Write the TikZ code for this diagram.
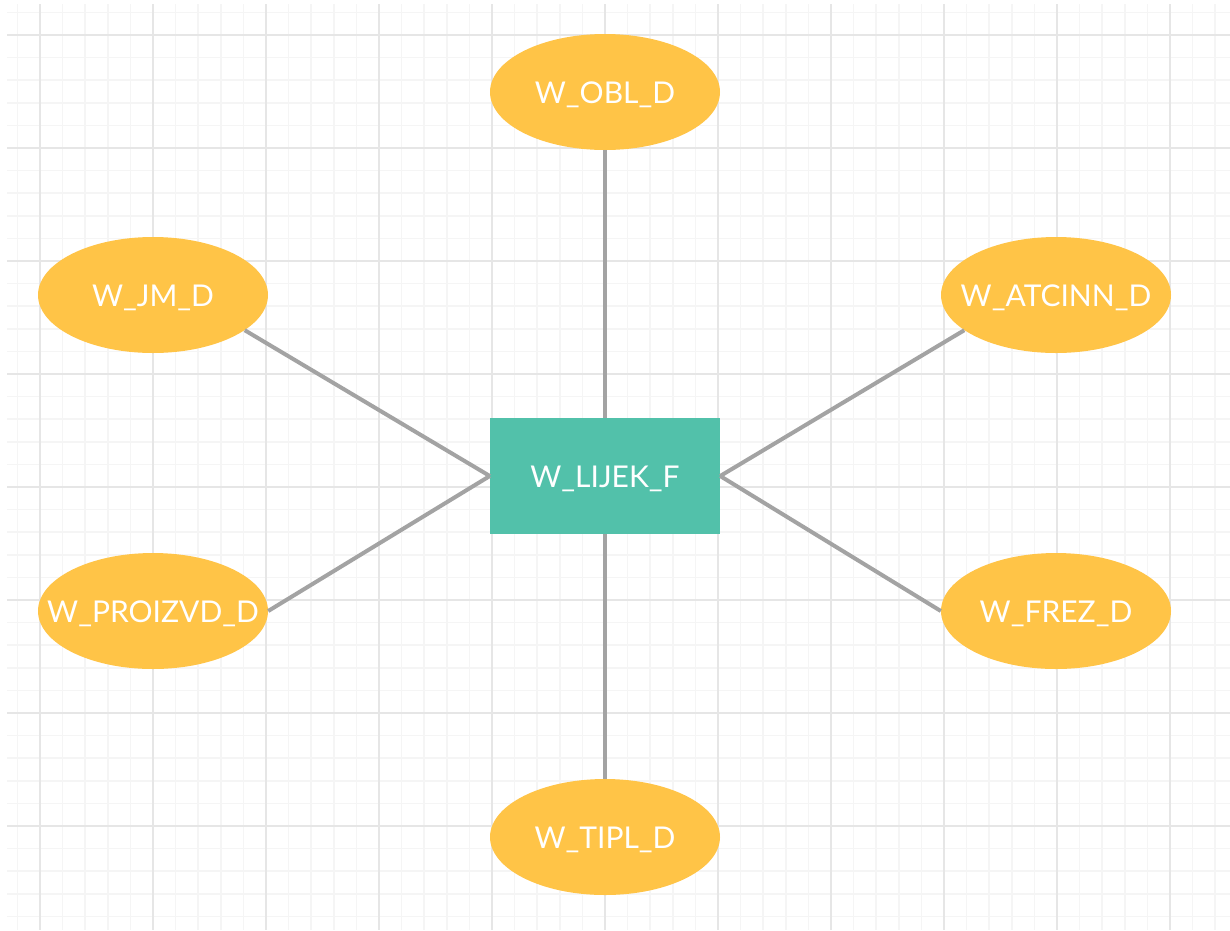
\documentclass[tikz,border=0pt]{standalone}
\usepackage{fontspec}
\setmainfont{Lato}
\usetikzlibrary{shapes.geometric}
\definecolor{dimcol}{HTML}{FFC447}
\definecolor{factcol}{HTML}{52C1AA}
\definecolor{linkcol}{HTML}{A3A3A3}
\definecolor{gridmajor}{HTML}{E6E6E6}
\definecolor{gridminor}{HTML}{F5F5F5}
\tikzset{
  labeltext/.style={text=white, font=\fontsize{30}{36}\selectfont, text height=23pt, text depth=0pt},
  dimnode/.style={ellipse, fill=dimcol, draw=none, minimum width=230pt, minimum height=116pt, inner sep=0pt, labeltext},
  factnode/.style={rectangle, fill=factcol, draw=none, minimum width=230pt, minimum height=116pt, inner sep=0pt, labeltext},
  link/.style={draw=linkcol, line width=4pt},
}
\newcommand{\ctext}[1]{\makebox[0pt][c]{#1}}
\begin{document}
\begin{tikzpicture}[x=1pt,y=-1pt]
\useasboundingbox (0,0) rectangle (1230,930);
\fill[white] (0,0) rectangle (1230,930);
% minor grid
\foreach \i in {0,...,54} {
  \draw[gridminor, line width=1.5pt] ({17.4+22.6*\i},4) -- ({17.4+22.6*\i},930);
}
\foreach \j in {0,...,40} {
  \draw[gridminor, line width=1.5pt] (7,{12.4+22.6*\j}) -- (1230,{12.4+22.6*\j});
}
% major grid
\foreach \i in {0,...,10} {
  \draw[gridmajor, line width=2pt] ({40+113*\i},4) -- ({40+113*\i},930);
}
\foreach \j in {0,...,7} {
  \draw[gridmajor, line width=2pt] (7,{35+113*\j}) -- (1230,{35+113*\j});
}
% nodes
\node[factnode] (lijek) at (605,476) {\ctext{W\_LIJEK\_F}};
\node[dimnode] (obl) at (605,92) {\ctext{W\_OBL\_D}};
\node[dimnode] (jm) at (153,295) {\ctext{W\_JM\_D}};
\node[dimnode] (atc) at (1056,295) {\ctext{W\_ATCINN\_D}};
\node[dimnode] (proiz) at (153,611) {\ctext{W\_PROIZVD\_D}};
\node[dimnode] (frez) at (1056,611) {\ctext{W\_FREZ\_D}};
\node[dimnode] (tipl) at (605,837) {\ctext{W\_TIPL\_D}};
% links
\draw[link] (obl.south) -- (lijek.north);
\draw[link] (tipl.north) -- (lijek.south);
\draw[link] (jm.-21) -- (lijek.west);
\draw[link] (proiz.east) -- (lijek.west);
\draw[link] (atc.201) -- (lijek.east);
\draw[link] (frez.west) -- (lijek.east);
\end{tikzpicture}
\end{document}
